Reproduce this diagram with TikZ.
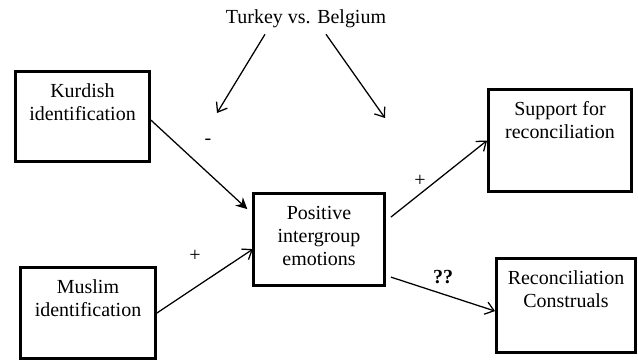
\documentclass[tikz,border=0pt]{standalone}
\usepackage{fontspec}
\setmainfont{Liberation Serif}
\usepackage{tikz}
\usetikzlibrary{arrows.meta}

\newcommand{\boxtext}[3]{\parbox[t][#2][t]{#1}{\centering\rule{0pt}{0.64cm}#3}}

\begin{document}
\begin{tikzpicture}[scale=1,
  font=\fontsize{14.2pt}{16.4pt}\selectfont,
  varbox/.style={draw, line width=2pt, inner sep=0pt},
  link/.style={line width=0.9pt, -{Straight Barb[length=6pt,width=9pt]}},
  sign/.style={inner sep=0pt}]
  \useasboundingbox (0,0) rectangle (15.95,9.025);
  % boxes
  \node[varbox] (kurd) at (2.0625,6.1125)
    {\boxtext{3.35cm}{2.25cm}{Kurdish\\identification}};
  \node[varbox] (musl) at (2.2,1.2)
    {\boxtext{3.375cm}{2.275cm}{Muslim\\identification}};
  \node[varbox] (emot) at (7.975,3.0375)
    {\boxtext{3.275cm}{2.3cm}{Positive\\intergroup\\emotions}};
  \node[varbox] (supp) at (14.0,5.5125)
    {\boxtext{3.575cm}{2.55cm}{Support for\\reconciliation}};
  \node[varbox] (cons) at (14.15,1.3875)
    {\boxtext{3.475cm}{2.35cm}{Reconciliation\\Construals}};
  % moderator
  \node[anchor=base] (ctry) at (7.65,8.45) {Turkey vs. Belgium};
  \coordinate (modL) at (5.425,6.2);
  \coordinate (modR) at (9.625,6.075);
  \draw[link]
    ([xshift=-1.025cm,yshift=-0.05cm]ctry.south)
    --
    (modL);
  \draw[link]
    ([xshift=0.5cm,yshift=-0.05cm]ctry.south)
    --
    (modR);
  % paths
  \draw[line width=0.9pt, -{Stealth[length=8pt,width=8pt]}]
    ([yshift=-0.09cm]kurd.east)
    --
    ([shift={(-0.12,0.76)}]emot.west);
  \draw[link]
    (musl.east)
    --
    ([shift={(0.02,-0.24)}]emot.west);
  \draw[link]
    ([shift={(0.125,0.56)}]emot.east)
    --
    (supp.west);
  \draw[link]
    ([shift={(0.125,-0.94)}]emot.east)
    --
    ([yshift=-0.14cm]cons.west);
  % signs
  \node[sign] (negK) at (5.2,5.475) {-};
  \node[sign] (posM) at (4.875,2.625) {+};
  \node[sign] (posS) at (10.5,4.5) {+};
  \node[sign] (qqC) at (11.075,2.1) {\textbf{??}};
\end{tikzpicture}
\end{document}
